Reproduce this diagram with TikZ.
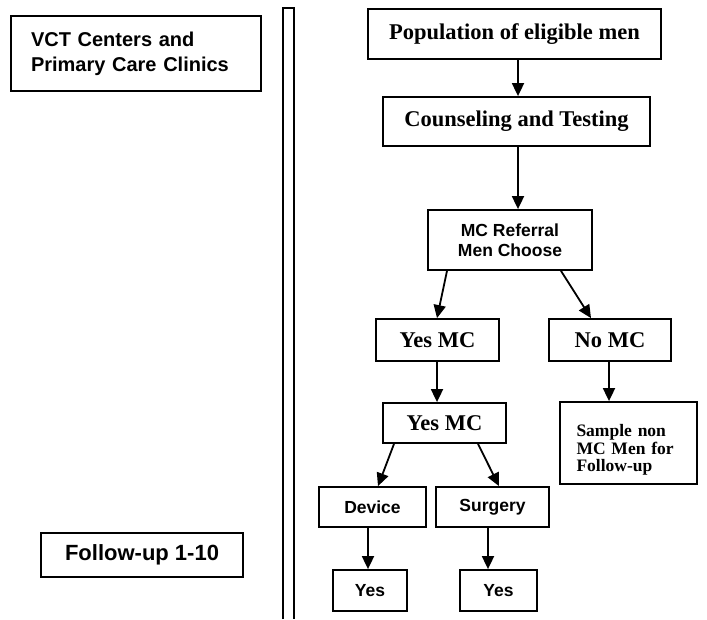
\documentclass[tikz,border=0pt]{standalone}
\usepackage{fontspec}
\setmainfont{Liberation Serif}
\setsansfont{Liberation Sans}
\usetikzlibrary{arrows.meta}
\begin{document}
\begin{tikzpicture}[x=1pt,y=-1pt,
  box/.style={draw,line width=1.8pt,inner sep=0pt,align=center},
  arialA/.style={font=\sffamily\bfseries\fontsize{20}{25}\selectfont},
  arialB/.style={font=\sffamily\bfseries\fontsize{17.5}{20}\selectfont},
  arialC/.style={font=\sffamily\bfseries\fontsize{22}{26}\selectfont},
  timesA/.style={font=\rmfamily\bfseries\fontsize{22.5}{26}\selectfont},
  timesB/.style={font=\rmfamily\bfseries\fontsize{17.5}{17.5}\selectfont},
  arr/.style={line width=1.8pt,-{Triangle[length=13pt,width=12pt]}}]
\useasboundingbox (0,0) rectangle (707,619);
% double separator bar
\draw[line width=1.8pt] (283,619) -- (283,8) -- (294,8) -- (294,619);
% left column
\node[box,arialA,minimum width=250,minimum height=75,text width=210,align=left] (vct) at (136,53.5) {VCT Centers and\\Primary Care Clinics};
\node[box,arialC,minimum width=202,minimum height=44] (fu) at (142,555) {Follow-up 1-10};
% right column
\node[box,timesA,minimum width=293,minimum height=50] (pop) at (514.5,34) {Population of eligible men};
\node[box,timesA,minimum width=267,minimum height=49] (couns) at (516.5,121.5) {Counseling and Testing};
\node[box,arialB,minimum width=164,minimum height=60] (mcref) at (510,240) {MC Referral\\Men Choose};
\node[box,timesA,minimum width=123,minimum height=42] (yes1) at (437.5,340) {Yes MC};
\node[box,timesA,minimum width=122,minimum height=42] (no1) at (610,340) {No MC};
\node[box,timesA,minimum width=123,minimum height=40] (yes2) at (444.5,423) {Yes MC};
\node[box,timesB,minimum width=137,minimum height=82,text width=104,align=left] (sample) at (628.5,443) {\rule{0pt}{26pt}Sample non\\MC Men for\\Follow-up};
\node[box,arialB,minimum width=107,minimum height=40] (dev) at (372.5,507) {Device};
\node[box,arialB,minimum width=113,minimum height=40] (surg) at (492.5,507) {Surgery};
\node[box,arialB,minimum width=74,minimum height=41] (yesA) at (370,590.5) {Yes};
\node[box,arialB,minimum width=77,minimum height=41] (yesB) at (498.5,590.5) {Yes};
% connectors
\draw[arr] ([xshift=3.5pt]pop.south) -- ([xshift=1.5pt]couns.north);
\draw[arr] ([xshift=1.5pt]couns.south) -- ([xshift=8pt]mcref.north);
\draw[arr] ([xshift=-63pt]mcref.south) -- ([xshift=-0.5pt]yes1.north);
\draw[arr] ([xshift=51pt]mcref.south) -- ([xshift=-19pt]no1.north);
\draw[arr] ([xshift=-0.5pt]yes1.south) -- ([xshift=-7.5pt]yes2.north);
\draw[arr] ([xshift=-1pt]no1.south) -- ([xshift=-19.5pt]sample.north);
\draw[arr] ([xshift=-50.5pt]yes2.south) -- ([xshift=5.5pt]dev.north);
\draw[arr] ([xshift=33.5pt]yes2.south) -- ([xshift=6.5pt]surg.north);
\draw[arr] ([xshift=-4.5pt]dev.south) -- ([xshift=-2pt]yesA.north);
\draw[arr] ([xshift=-4.5pt]surg.south) -- ([xshift=-10.5pt]yesB.north);
\end{tikzpicture}
\end{document}
